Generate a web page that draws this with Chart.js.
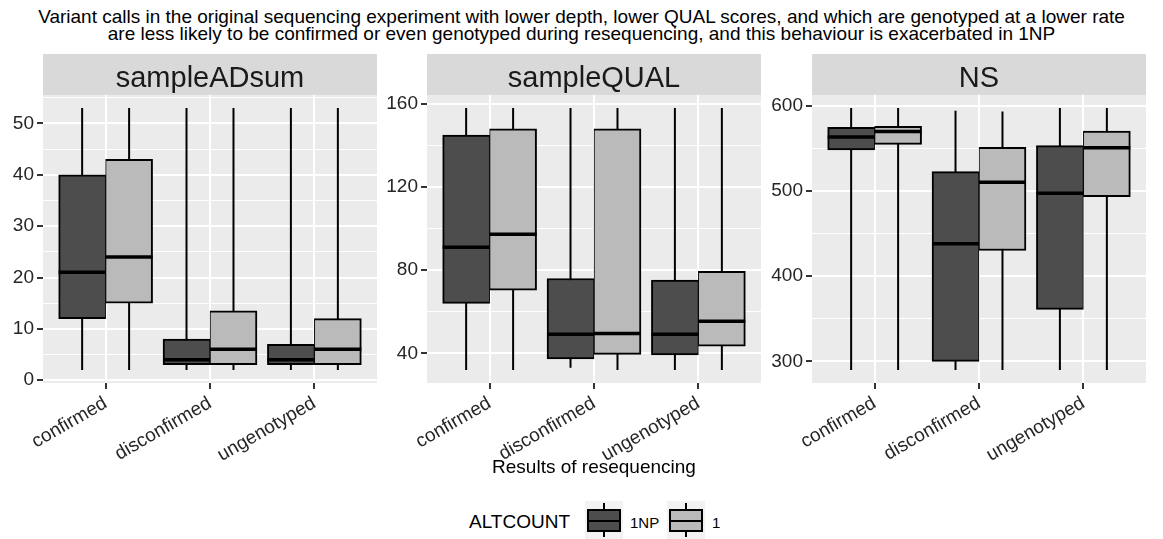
<!DOCTYPE html>
<html>
<head>
<meta charset="utf-8">
<title>Resultados de resecuenciación</title>
<script src="https://cdn.jsdelivr.net/npm/chart.js@4"></script>
<style>
    body { margin: 0; background: #ffffff; font-family: "Liberation Sans", Arial, Helvetica, sans-serif; }
    #pagina { position: relative; width: 1163px; height: 539px; overflow: hidden; }
    #titulo { position: absolute; left: 0; top: 8px; width: 1163px; text-align: center; font-size: 19px; line-height: 17px; color: #000; }
    canvas { position: absolute; top: 54px; }
    .texto-ley { position: absolute; color: #000; white-space: nowrap; }
    .clave { position: absolute; top: 501px; width: 38px; height: 38px; background: #F2F2F2; }
    .clave .bigote { position: absolute; left: 18px; top: 2px; width: 2px; height: 34px; background: #000; }
    .clave .caja { position: absolute; left: 2px; top: 8px; width: 34px; height: 23px; box-sizing: border-box; border: 2px solid #000; }
    .clave .mediana { position: absolute; left: 2px; top: 19px; width: 34px; height: 2px; background: #000; }
</style>
</head>
<body>
<div id="pagina">
    <div id="titulo">Variant calls in the original sequencing experiment with lower depth, lower QUAL scores, and which are genotyped at a lower rate<br>are less likely to be confirmed or even genotyped during resequencing, and this behaviour is exacerbated in 1NP</div>
    <canvas id="panel-adsum" width="385" height="429" style="left:0px"></canvas>
    <canvas id="panel-qual" width="385" height="429" style="left:385px"></canvas>
    <canvas id="panel-ns" width="393" height="429" style="left:770px"></canvas>

    <div class="texto-ley" style="left:469px; top:512px; font-size:19px; line-height:19px">ALTCOUNT</div>
    <div class="clave" style="left:585px"><div class="bigote"></div><div class="caja" style="background:#4D4D4D"></div><div class="mediana"></div></div>
    <div class="texto-ley" style="left:630px; top:515px; font-size:15px; line-height:15px">1NP</div>
    <div class="clave" style="left:667px"><div class="bigote"></div><div class="caja" style="background:#BABABA"></div><div class="mediana"></div></div>
    <div class="texto-ley" style="left:712px; top:515px; font-size:15px; line-height:15px">1</div>
</div>
<script>
// categorías del eje x y grupos de ALTCOUNT
const categorias = ['confirmed', 'disconfirmed', 'ungenotyped'];
const grupos = ['1NP', '1'];

// cada fila: [mínimo, Q1, mediana, Q3, máximo] por categoría
const adsum1NP = [[2, 12, 21, 40, 53], [2, 3, 4, 8, 53], [2, 3, 4, 7, 53]];
const adsum1 = [[2, 15, 24, 43, 53], [2, 3, 6, 13.5, 53], [2, 3, 6, 12, 53]];

const qual1NP = [[32, 64, 91, 145, 158], [33, 37.3, 49.2, 76, 158], [32, 39.2, 49.2, 75.2, 158]];
const qual1 = [[32, 70.4, 97.3, 148, 158], [32, 39.5, 49.5, 148, 158], [32, 43.4, 55.4, 79.4, 158]];

const ns1NP = [[290, 548, 563, 574.5, 597], [290, 300, 438, 522.5, 594], [290, 361, 497, 553, 597]];
const ns1 = [[290, 554.5, 569.5, 575.5, 597], [290, 430, 510, 551, 593], [290, 493, 550.5, 570, 597]];

// marcas principales del eje y
const ticksAdsum = [0, 10, 20, 30, 40, 50];
const ticksQual = [40, 80, 120, 160];
const ticksNs = [300, 400, 500, 600];

(function() {
    const FUENTE = '"Liberation Sans", Arial, Helvetica, sans-serif';
    const COLORES = { '1NP': '#4D4D4D', '1': '#BABABA' };
    const DESPLAZAMIENTO = 0.225;   // medio ancho de la caja (dodge 0.9)
    const ALTO_TIRA = 41;
    const ALTO_EJE_X = 100;

    Chart.defaults.font.family = FUENTE;

    // fondo gris del panel y la tira con el nombre de la variable
    const fondoPanel = {
        id: 'fondoPanel',
        beforeDraw(chart, args, opts) {
            const { ctx, chartArea: a } = chart;
            ctx.save();
            ctx.fillStyle = '#EBEBEB';
            ctx.fillRect(a.left, a.top, a.width, a.height);
            ctx.fillStyle = '#D9D9D9';
            ctx.fillRect(a.left, 0, a.width, ALTO_TIRA);
            ctx.fillStyle = '#1A1A1A';
            ctx.font = '29px ' + FUENTE;
            ctx.textAlign = 'center';
            ctx.textBaseline = 'alphabetic';
            ctx.fillText(opts.texto, (a.left + a.right) / 2, 33);
            ctx.restore();
        }
    };

    // bigotes detrás de las cajas y medianas encima
    const bigotes = {
        id: 'bigotes',
        beforeDatasetsDraw(chart) {
            const { ctx } = chart;
            const y = chart.scales.y;
            ctx.save();
            ctx.strokeStyle = '#000';
            ctx.lineWidth = 2;
            chart.data.datasets.forEach((ds, d) => {
                chart.getDatasetMeta(d).data.forEach((barra, i) => {
                    const f = ds.cajas[i];
                    ctx.beginPath();
                    ctx.moveTo(barra.x, y.getPixelForValue(f[0]));
                    ctx.lineTo(barra.x, y.getPixelForValue(f[4]));
                    ctx.stroke();
                });
            });
            ctx.restore();
        },
        afterDatasetsDraw(chart) {
            const { ctx } = chart;
            const y = chart.scales.y;
            ctx.save();
            ctx.strokeStyle = '#000';
            ctx.lineWidth = 3.5;
            chart.data.datasets.forEach((ds, d) => {
                chart.getDatasetMeta(d).data.forEach((barra, i) => {
                    const py = y.getPixelForValue(ds.cajas[i][2]);
                    ctx.beginPath();
                    ctx.moveTo(barra.x - barra.width / 2, py);
                    ctx.lineTo(barra.x + barra.width / 2, py);
                    ctx.stroke();
                });
            });
            ctx.restore();
        }
    };

    function crearPanel(id, texto, filas1NP, filas1, mayores, config) {
        const todas = filas1NP.concat(filas1);
        const lo = Math.min(...todas.map(f => f[0]));
        const hi = Math.max(...todas.map(f => f[4]));
        const margen = (hi - lo) * 0.05;
        const yMin = lo - margen;
        const yMax = hi + margen;

        // marcas menores a mitad de camino entre las principales
        const paso = mayores[1] - mayores[0];
        const ticksY = [];
        for (let v = mayores[0] - paso / 2; v <= yMax; v += paso / 2) {
            if (v >= yMin) ticksY.push(v);
        }
        const esMayor = v => mayores.includes(v);

        const conjunto = (grupo, filas, signo, bordes) => ({
            label: grupo,
            data: filas.map((f, i) => ({ x: i + 1 + signo * DESPLAZAMIENTO, y: [f[1], f[3]] })),
            cajas: filas,
            backgroundColor: COLORES[grupo],
            borderColor: '#000',
            borderWidth: bordes,
            borderSkipped: false,
            grouped: false,
            categoryPercentage: 1,
            barPercentage: 1
        });

        return new Chart(document.getElementById(id), {
            type: 'bar',
            data: {
                datasets: [
                    conjunto(grupos[0], filas1NP, -1, { top: 2, bottom: 2, left: 2, right: 1 }),
                    conjunto(grupos[1], filas1, 1, { top: 2, bottom: 2, left: 1, right: 2 })
                ]
            },
            options: {
                responsive: false,
                animation: false,
                devicePixelRatio: 1,
                layout: { padding: { top: ALTO_TIRA, left: 0, right: config.derecha, bottom: 0 } },
                plugins: {
                    legend: { display: false },
                    tooltip: { enabled: false },
                    fondoPanel: { texto: texto }
                },
                scales: {
                    x: {
                        type: 'linear',
                        min: 0.4,
                        max: 3.6,
                        bounds: 'data',
                        offset: false,
                        afterBuildTicks: s => { s.ticks = categorias.map((c, i) => ({ value: i + 1 })); },
                        afterFit: s => { s.height = ALTO_EJE_X; },
                        ticks: {
                            autoSkip: false,
                            minRotation: 30,
                            maxRotation: 30,
                            padding: 3,
                            color: '#262626',
                            font: { size: 19 },
                            callback: (v, i) => categorias[i]
                        },
                        grid: { offset: false, color: '#FFFFFF', lineWidth: 2, tickLength: 6, tickColor: '#333333', tickWidth: 2 },
                        border: { display: false },
                        title: {
                            display: !!config.tituloX,
                            text: config.tituloX || '',
                            color: '#000',
                            font: { size: 19 },
                            padding: { top: 4, bottom: 4 }
                        }
                    },
                    y: {
                        type: 'linear',
                        min: yMin,
                        max: yMax,
                        bounds: 'data',
                        afterBuildTicks: s => { s.ticks = ticksY.map(v => ({ value: v })); },
                        afterFit: s => { s.width = config.anchoY; },
                        ticks: {
                            autoSkip: false,
                            padding: 3,
                            color: '#262626',
                            font: { size: 19 },
                            callback: v => esMayor(v) ? String(v) : ''
                        },
                        grid: {
                            color: '#FFFFFF',
                            lineWidth: c => (c.tick && esMayor(c.tick.value)) ? 2 : 1,
                            tickLength: 6,
                            tickColor: c => (c.tick && esMayor(c.tick.value)) ? '#333333' : 'rgba(0,0,0,0)',
                            tickWidth: 2
                        },
                        border: { display: false }
                    }
                }
            },
            plugins: [fondoPanel, bigotes]
        });
    }

    crearPanel('panel-adsum', 'sampleADsum', adsum1NP, adsum1, ticksAdsum, { anchoY: 43, derecha: 8 });
    crearPanel('panel-qual', 'sampleQUAL', qual1NP, qual1, ticksQual, { anchoY: 42, derecha: 9, tituloX: 'Results of resequencing' });
    crearPanel('panel-ns', 'NS', ns1NP, ns1, ticksNs, { anchoY: 42, derecha: 17 });
})();
</script>
</body>
</html>
